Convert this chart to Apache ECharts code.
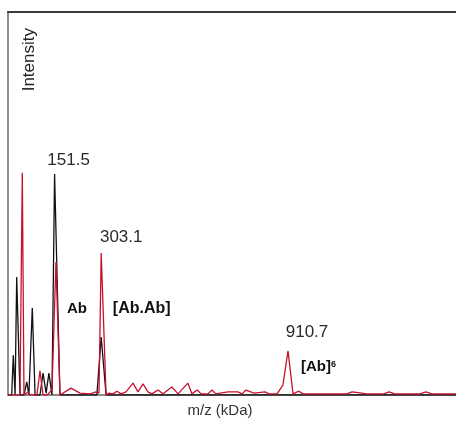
<!DOCTYPE html>
<html>
<head>
  <meta charset="utf-8" />
  <title>mass spectrum</title>
  <style>
    html, body { margin: 0; padding: 0; background: #fff; }
    #chart { width: 456px; height: 423px; }
  </style>
</head>
<body>
  <div id="chart"></div>
  <script src="https://cdn.jsdelivr.net/npm/echarts@6/dist/echarts.min.js"></script>
  <script>
    // black trace (m/z, intensity %)
    var blackMz = [0, 12, 17.2, 23, 28.3, 39, 52, 61, 68, 79, 88, 104, 114, 124, 133, 143, 151.5, 169, 289, 303.1, 319, 1457];
    var blackInt = [0, 0, 10.4, 0, 30.8, 0, 0, 3.4, 0, 22.7, 0, 0, 5.7, 0.5, 5.7, 0, 57.7, 0, 0, 15.1, 0, 0];

    // red trace
    var redMz = [0, 39, 46.5, 52, 65, 71.5, 94, 104, 114, 127, 143, 156, 169, 205, 234, 267, 286, 296, 303.1, 319,
      328.5, 341.5, 354.5, 367.5, 383.7, 406.5, 422.8, 439, 455, 468, 488, 504, 533, 553, 585, 598, 615, 628, 650, 663, 676,
      715, 748, 761, 774, 800, 836, 849, 875, 894, 910.7, 927, 946, 959, 1102, 1119, 1151, 1164, 1223, 1239, 1258,
      1340, 1359, 1379, 1457];
    var redInt = [0, 0, 58, 0, 0.8, 0, 0, 6.3, 0, 0, 1.3, 34.7, 0, 1.8, 0.5, 0.3, 0.8, 0.5, 37.1, 0,
      0.5, 0.3, 1.0, 0.3, 0.8, 3.1, 0.8, 2.9, 0.8, 0.3, 1.3, 0.3, 2.1, 0.3, 3.1, 0.3, 1.3, 0.3, 0.3, 1.3, 0.3,
      0.8, 0.8, 0.3, 1.3, 0.5, 0.8, 0.3, 0.3, 2.6, 11.5, 0.3, 1.0, 0.3, 0.3, 0.8, 0.5, 0.3, 0.3, 0.8, 0.3,
      0.3, 0.8, 0.3, 0.3];

    // labelled peaks
    var peakMz = [151.5, 303.1, 910.7];
    var peakInt = [57.7, 37.1, 11.5];

    // species labels
    var speciesText = ['Ab', '[Ab.Ab]', '[Ab]{sup|6}'];
    var speciesMz = [224.4, 434.8, 952.8];
    var speciesInt = [22.5, 22.5, 7.3];

    function pairs(xs, ys) {
      var out = [];
      for (var i = 0; i < xs.length; i++) out.push([xs[i], ys[i]]);
      return out;
    }

    var _font = 'Liberation Sans, Arial, sans-serif';
    var peakOffsets = [[14, -14], [20, -16], [19, -19]];

    var peakMarks = [];
    for (var i = 0; i < peakMz.length; i++) {
      peakMarks.push({
        coord: [peakMz[i], peakInt[i]],
        label: { offset: peakOffsets[i], formatter: peakMz[i].toFixed(1) }
      });
    }
    var speciesMarks = [];
    for (var j = 0; j < speciesText.length; j++) {
      speciesMarks.push({
        coord: [speciesMz[j], speciesInt[j]],
        label: {
          formatter: speciesText[j],
          align: j == 2 ? 'left' : 'center',
          color: '#111',
          fontSize: j == 1 ? 16 : 15,
          fontWeight: 'bold',
          rich: { sup: { fontSize: 9, fontWeight: 'bold', color: '#111', verticalAlign: 'top', fontFamily: _font } }
        }
      });
    }

    var myChart = echarts.init(document.getElementById('chart'));
    var option = {
      animation: false,
      grid: { left: 8, right: 0, top: 12, bottom: 28 },
      xAxis: [{
        type: 'value', min: 0, max: 1457,
        axisLine: { show: true, lineStyle: { color: '#8c8c8c', width: 2 } },
        axisTick: { show: false }, axisLabel: { show: false }, splitLine: { show: false }
      }, {
        type: 'value', min: 0, max: 1457, position: 'top',
        axisLine: { show: true, lineStyle: { color: '#3a3a3a', width: 2 } },
        axisTick: { show: false }, axisLabel: { show: false }, splitLine: { show: false }
      }],
      yAxis: [{
        type: 'value', min: 0, max: 100,
        axisLine: { show: true, lineStyle: { color: '#8c8c8c', width: 2 } },
        axisTick: { show: false }, axisLabel: { show: false }, splitLine: { show: false }
      }],
      graphic: [{
        type: 'text', left: 21, top: 28, rotation: Math.PI / 2,
        style: { text: 'Intensity', fill: '#222', font: '17px ' + _font }
      }, {
        type: 'text', x: 220, y: 411,
        style: { text: 'm/z (kDa)', fill: '#333', font: '15px ' + _font, align: 'center', verticalAlign: 'middle' }
      }],
      series: [{
        name: 'black',
        type: 'line',
        showSymbol: false,
        data: pairs(blackMz, blackInt),
        lineStyle: { color: '#111', width: 1.3 },
        z: 2,
        markPoint: {
          symbol: 'circle', symbolSize: 0,
          label: { show: true, position: 'inside', color: '#2a2a2a', fontSize: 17, fontFamily: _font },
          data: [peakMarks[0]]
        }
      }, {
        name: 'red',
        type: 'line',
        showSymbol: false,
        data: pairs(redMz, redInt),
        lineStyle: { color: '#c8102e', width: 1.3 },
        z: 3,
        markPoint: {
          symbol: 'circle', symbolSize: 0,
          label: { show: true, position: 'inside', color: '#2a2a2a', fontSize: 17, fontFamily: _font },
          data: [peakMarks[1], peakMarks[2]].concat(speciesMarks)
        }
      }]
    };
    myChart.setOption(option);
  </script>
</body>
</html>
